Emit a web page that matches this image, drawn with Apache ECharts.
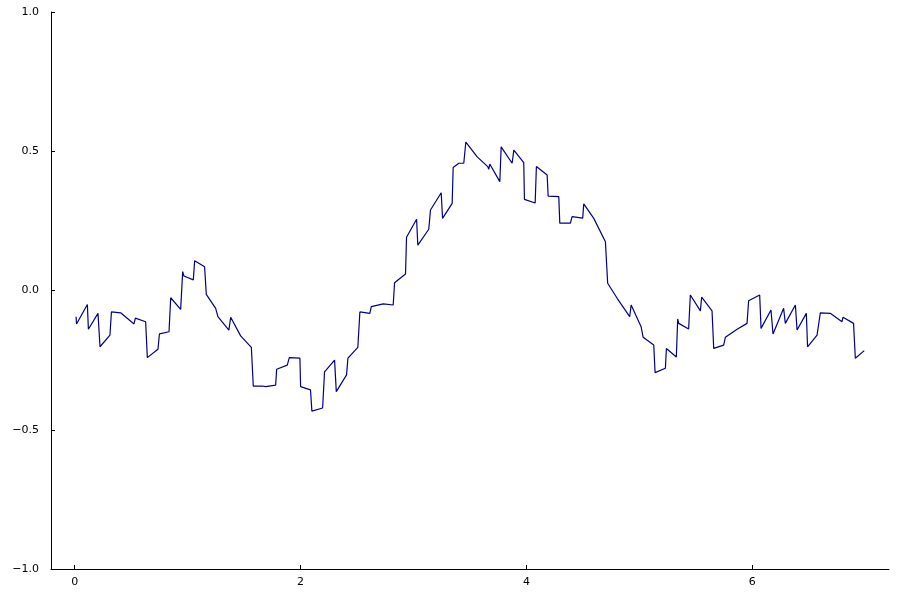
<!DOCTYPE html>
<html>
<head>
<meta charset="utf-8">
<script src="https://cdn.jsdelivr.net/npm/echarts@6/dist/echarts.min.js"></script>
<style>html,body{margin:0;padding:0;background:#fff;}#c{width:900px;height:600px;}</style>
</head>
<body>
<div id="c"></div>
<script>
const xs = [0.012,0.016,0.112,0.121,0.206,0.224,0.312,0.325,0.407,0.525,0.537,0.628,0.643,0.737,0.750,0.835,0.850,0.938,0.956,0.967,1.050,1.062,1.150,1.165,1.248,1.268,1.365,1.381,1.469,1.564,1.581,1.661,1.690,1.779,1.788,1.882,1.900,1.994,2.000,2.088,2.100,2.195,2.212,2.301,2.316,2.407,2.419,2.507,2.525,2.613,2.626,2.732,2.820,2.832,2.929,2.938,3.027,3.038,3.135,3.150,3.245,3.257,3.342,3.351,3.401,3.445,3.463,3.564,3.657,3.666,3.675,3.764,3.776,3.873,3.888,3.976,3.982,4.077,4.080,4.088,4.183,4.192,4.286,4.295,4.389,4.404,4.498,4.507,4.596,4.699,4.719,4.803,4.914,4.927,5.015,5.033,5.127,5.139,5.230,5.239,5.327,5.339,5.348,5.436,5.451,5.540,5.551,5.643,5.658,5.746,5.761,5.865,5.953,5.967,6.065,6.077,6.165,6.183,6.277,6.292,6.381,6.396,6.478,6.489,6.573,6.602,6.690,6.794,6.803,6.896,6.912,6.991];
const ys = [-0.094,-0.120,-0.050,-0.139,-0.082,-0.202,-0.160,-0.077,-0.080,-0.120,-0.099,-0.112,-0.241,-0.211,-0.156,-0.148,-0.026,-0.068,0.068,0.052,0.038,0.107,0.085,-0.014,-0.064,-0.094,-0.142,-0.096,-0.163,-0.204,-0.343,-0.343,-0.345,-0.340,-0.283,-0.268,-0.241,-0.243,-0.345,-0.357,-0.433,-0.422,-0.292,-0.250,-0.363,-0.303,-0.243,-0.204,-0.077,-0.082,-0.058,-0.048,-0.052,0.028,0.059,0.191,0.256,0.163,0.220,0.289,0.351,0.259,0.313,0.442,0.457,0.457,0.533,0.480,0.445,0.435,0.454,0.391,0.516,0.457,0.504,0.459,0.327,0.314,0.307,0.445,0.415,0.339,0.337,0.242,0.242,0.265,0.260,0.311,0.259,0.175,0.026,-0.028,-0.094,-0.052,-0.130,-0.168,-0.196,-0.295,-0.279,-0.208,-0.239,-0.102,-0.118,-0.138,-0.016,-0.073,-0.024,-0.073,-0.208,-0.196,-0.168,-0.139,-0.118,-0.037,-0.016,-0.136,-0.070,-0.156,-0.064,-0.118,-0.052,-0.142,-0.082,-0.202,-0.160,-0.080,-0.082,-0.112,-0.096,-0.118,-0.243,-0.216];
const xTicks = [0, 2, 4, 6];
const yTicks = [-1, -0.5, 0, 0.5, 1];

const fmtY = v => (v < 0 ? '\u2212' : '') + Math.abs(v).toFixed(1);
const chart = echarts.init(document.getElementById('c'), null, {renderer: 'canvas'});
chart.setOption({
  animation: false,
  backgroundColor: '#ffffff',
  grid: {left: 51, right: 11, top: 12, bottom: 31, containLabel: false},
  xAxis: {
    type: 'value', min: -0.21, max: 7.21,
    axisLine: {show: true, onZero: false, lineStyle: {color: '#000', width: 1}},
    axisTick: {show: true, inside: true, length: 4, lineStyle: {color: '#000'}, customValues: xTicks},
    axisLabel: {show: true, customValues: xTicks, formatter: v => String(v), color: '#000', fontSize: 11, fontFamily: 'DejaVu Sans', margin: 8},
    splitLine: {show: false}
  },
  yAxis: {
    type: 'value', min: -1, max: 1,
    axisLine: {show: true, onZero: false, lineStyle: {color: '#000', width: 1}},
    axisTick: {show: true, inside: true, length: 4, lineStyle: {color: '#000'}, customValues: yTicks},
    axisLabel: {show: true, customValues: yTicks, formatter: fmtY, color: '#000', fontSize: 11, fontFamily: 'DejaVu Sans', margin: 12},
    splitLine: {show: false}
  },
  series: [{
    type: 'line',
    data: xs.map((x, i) => [x, ys[i]]),
    showSymbol: false,
    lineStyle: {color: '#00008b', width: 1.2},
    clip: true
  }]
});
</script>
</body>
</html>
